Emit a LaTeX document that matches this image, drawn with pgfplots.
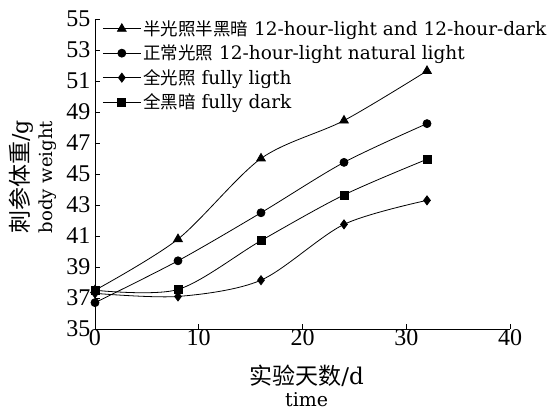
\documentclass[border=0pt]{standalone}
\usepackage{pgfplots}
\pgfplotsset{compat=1.18}
\usepackage{fontspec}
\setmainfont{Liberation Serif}
\newfontfamily\lat{DejaVu Serif}
\newfontfamily\cjk{Noto Sans CJK SC}
\newcommand{\lc}[1]{{\cjk\fontsize{17.5}{20}\selectfont #1}}
\begin{document}
\begin{tikzpicture}
\begin{axis}[
  scale only axis, width=415pt, height=310pt,
  xmin=0, xmax=40, ymin=35, ymax=55,
  xtick={0,10,20,30,40}, ytick={35,37,...,55},
  axis lines=left, axis line style={-, line width=0.8pt},
  tick style={black, line width=0.8pt}, tick align=inside, major tick length=5pt,
  /pgf/number format/assume math mode=true,
  tick label style={font=\fontsize{24}{24}\selectfont},
  xticklabel style={yshift=3pt},
  yticklabel style={xshift=-1pt},
  xlabel={{\cjk\fontsize{23}{23}\selectfont 实验天数}{\lat/d}\\{\lat\fontsize{19}{19}\selectfont time}},
  xlabel style={at={(axis description cs:0.51,-0.185)}, anchor=center, align=center, font=\fontsize{23}{22}\selectfont},
  ylabel={{\cjk\fontsize{23}{23}\selectfont 刺参体重}{\lat/g}\\{\lat\fontsize{18}{18}\selectfont body weight}},
  ylabel style={at={(axis description cs:-0.149,0.49)}, anchor=center, align=center, rotate=0, font=\fontsize{22}{24}\selectfont},
  legend style={at={(axis description cs:0.015,1.005)}, anchor=north west, draw=none, fill=none,
    font=\fontsize{18.5}{20}\selectfont\lat, row sep=4.2pt, inner sep=1pt,
    /tikz/every even column/.append style={column sep=0pt}},
  legend cell align=left,
  legend image code/.code={\draw[mark repeat=2,mark phase=2,#1] plot coordinates {(0pt,0pt)(19pt,0pt)(38pt,0pt)};},
  every axis plot/.append style={black, line width=0.8pt, smooth, tension=0.5},
]
\addplot[mark=triangle*, mark size=5pt] coordinates {(0,37.5) (8,40.8) (16,46.0) (24,48.45) (32,51.65)};
\addlegendentry{\lc{半光照半黑暗} 12-hour-light and 12-hour-dark}
\addplot[mark=*, mark size=4pt] coordinates {(0,36.7) (8,39.4) (16,42.5) (24,45.75) (32,48.25)};
\addlegendentry{\lc{正常光照} 12-hour-light natural light}
\addplot[mark=diamond*, mark size=4.5pt] coordinates {(0,37.3) (8,37.1) (16,38.15) (24,41.75) (32,43.3)};
\addlegendentry{\lc{全光照} fully ligth}
\addplot[mark=square*, mark size=4pt] coordinates {(0,37.5) (8,37.55) (16,40.7) (24,43.65) (32,45.95)};
\addlegendentry{\lc{全黑暗} fully dark}
\end{axis}
\path (current axis.south west) ++(-95pt,-83pt) rectangle ++(551pt,412pt);
\end{tikzpicture}
\end{document}
